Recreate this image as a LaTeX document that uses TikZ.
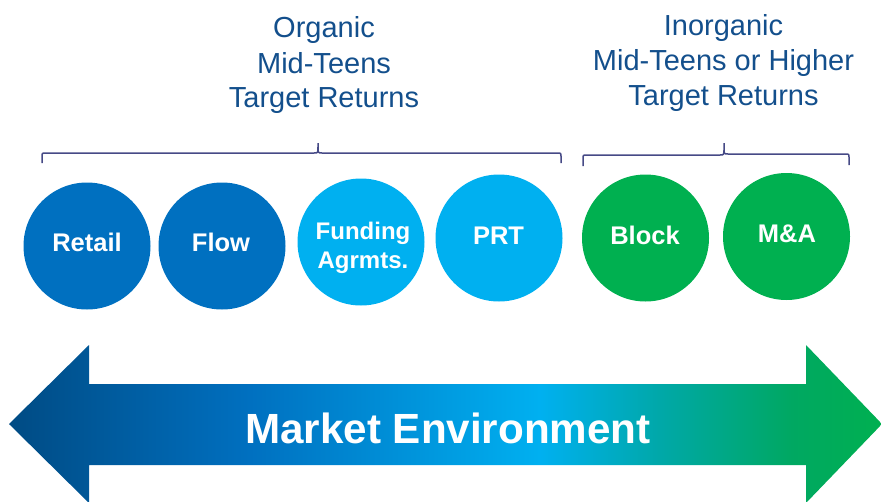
\documentclass[tikz,border=0pt]{standalone}
\usepackage{fontspec}
\setmainfont{Liberation Sans}
\definecolor{headblue}{HTML}{134F8C}
\definecolor{bracecol}{HTML}{464A86}
\definecolor{darkcirc}{HTML}{0070C0}
\definecolor{lightcirc}{HTML}{00B0F0}
\definecolor{greencirc}{HTML}{00B050}
\definecolor{sa}{HTML}{004B84}
\definecolor{sb}{HTML}{0070C0}
\definecolor{sc}{HTML}{00B0F0}
\definecolor{sd}{HTML}{00A8A8}
\definecolor{se}{HTML}{00A862}
\definecolor{sf}{HTML}{00B050}
\pgfdeclarehorizontalshading{mktshade}{100bp}{color(0bp)=(sa); color(25bp)=(sa); color(38.8bp)=(sb); color(55.4bp)=(sc); color(62.3bp)=(sd); color(69.8bp)=(se); color(75bp)=(sf); color(100bp)=(sf)}
\begin{document}
\begin{tikzpicture}[x=1pt,y=-1pt,
  bubble/.style={circle, inner sep=0pt, minimum size=127pt},
  bubbletext/.style={text=white, font=\fontsize{25.5}{29}\selectfont\bfseries, inner sep=0pt, anchor=base},
  smalltext/.style={text=white, font=\fontsize{24}{29}\selectfont\bfseries, inner sep=0pt, anchor=base},
  headtext/.style={text=headblue, font=\fontsize{29}{35}\selectfont, inner sep=0pt, anchor=base},
  bracket/.style={draw=bracecol, line width=1.5pt, line join=round}]
\useasboundingbox (0,0) rectangle (881,501);
\begin{scope}
\clip (0,0) rectangle (881,501);
\shade[shading=mktshade] (9,424) -- (89,345) -- (89,384) -- (806,384) -- (806,345) -- (882,424) -- (806,503) -- (806,465) -- (89,465) -- (89,503) -- cycle;
\end{scope}
\node[text=white, font=\fontsize{42.2}{50}\selectfont\bfseries, inner sep=0pt, anchor=base] (mkt) at (448,443) {Market Environment};

% headings
\node[headtext] (orgA) at (324,37) {Organic};
\node[headtext] (orgB) at (324,73) {Mid-Teens};
\node[headtext] (orgC) at (324,107) {Target Returns};
\node[headtext] (inoA) at (723.5,35) {Inorganic};
\node[headtext] (inoB) at (723.5,70) {Mid-Teens or Higher};
\node[headtext] (inoC) at (723.5,105) {Target Returns};

% brackets
\draw[bracket] (42,163) -- (42,156) .. controls (42,153) .. (45,153) -- (314,153) .. controls (318,153) .. (318,147) -- (318,143)
  (318,147) .. controls (318,153) .. (322,153) -- (558,153) .. controls (561,153) .. (561,156) -- (561,163);
\draw[bracket] (583,166) -- (583,158) .. controls (583,155) .. (586,155) -- (720,155) .. controls (724,155) .. (724,148) -- (724,143)
  (724,148) .. controls (724,154) .. (728,154) -- (846,154) .. controls (849,154) .. (849,157) -- (849,165);

% circles
\node[bubble, fill=darkcirc] (retail) at (87,246) {};
\node[bubble, fill=darkcirc] (flow) at (222,246) {};
\node[bubble, fill=lightcirc] (funding) at (361,242) {};
\node[bubble, fill=lightcirc] (prt) at (499,238) {};
\node[bubble, fill=greencirc] (block) at (645.5,238) {};
\node[bubble, fill=greencirc] (ma) at (786.5,236.5) {};

\node[bubbletext] (retailT) at (87,251) {Retail};
\node[bubbletext] (flowT) at (221,251) {Flow};
\node[smalltext] (fundT) at (363,239) {Funding};
\node[smalltext] (agrT) at (363,268) {Agrmts.};
\node[bubbletext] (prtT) at (498.5,244) {PRT};
\node[bubbletext] (blockT) at (645,244) {Block};
\node[bubbletext] (maT) at (787,242) {M\&A};
\end{tikzpicture}
\end{document}
